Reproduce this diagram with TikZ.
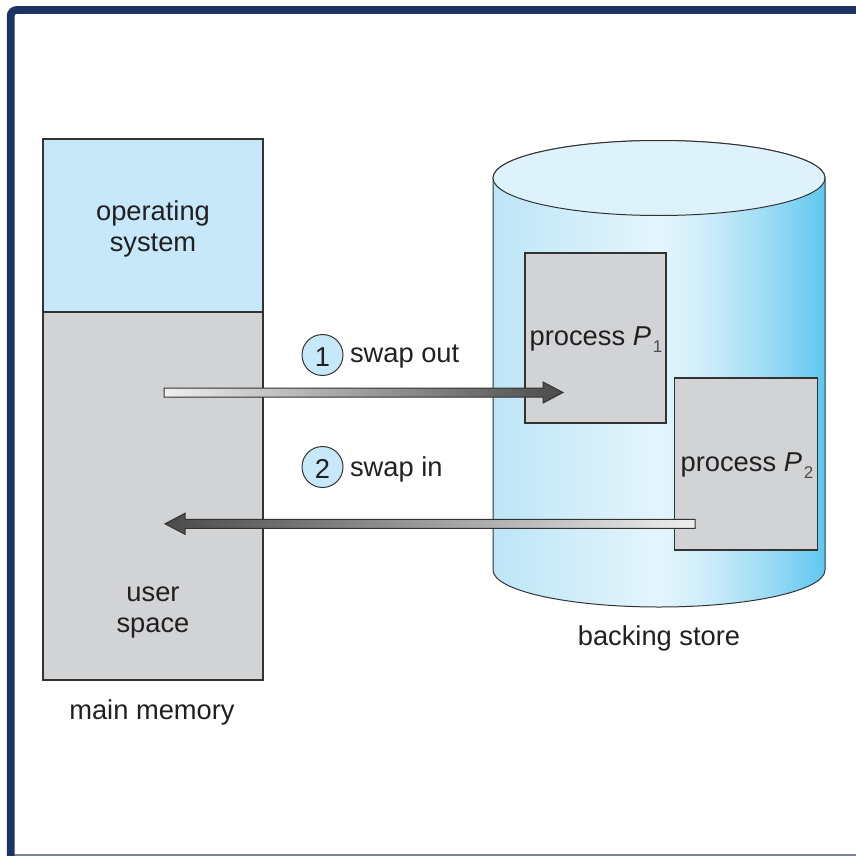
\documentclass[tikz,border=0pt]{standalone}
\usepackage{fontspec}
\setmainfont{Liberation Sans}
\usetikzlibrary{calc}

\definecolor{framenavy}{HTML}{1B3461}
\definecolor{framegrey}{HTML}{7A84A0}
\definecolor{osblue}{HTML}{C6E8F9}
\definecolor{memgrey}{HTML}{D1D3D5}
\definecolor{edge}{HTML}{333333}
\definecolor{ink}{HTML}{231F20}
\definecolor{topblue}{HTML}{DDF2FB}
\definecolor{cylA}{HTML}{BDE5F7}
\definecolor{cylB}{HTML}{C8EAF8}
\definecolor{cylC}{HTML}{E4F5FC}
\definecolor{cylD}{HTML}{CDEDFA}
\definecolor{cylE}{HTML}{98DAF4}
\definecolor{cylF}{HTML}{5EC8EF}
\definecolor{barlight}{HTML}{EFEFEF}
\definecolor{bardark}{HTML}{4A4A4A}

% side-to-side colour run of the disk cylinder
\pgfdeclarehorizontalshading{cylshade}{100bp}{%
  color(0bp)=(cylA); color(25bp)=(cylA); color(32bp)=(cylB);
  color(50bp)=(cylC); color(57bp)=(cylD); color(67bp)=(cylE);
  color(75bp)=(cylF); color(100bp)=(cylF)}

\tikzset{
  x=1pt, y=1pt,
  every node/.style={inner sep=0pt, outer sep=0pt, text=ink,
    font=\fontsize{27.3}{31}\selectfont},
  membox/.style={draw=edge, line width=1.1pt, minimum width=220pt},
  procbox/.style={draw=edge, line width=1.1pt, fill=memgrey},
  numcirc/.style={circle, draw=edge, line width=1pt, fill=osblue, minimum size=41pt},
  swapbar/.style={draw=edge, line width=1pt, line join=miter},
  caption/.style={align=center},
}

\newcommand{\procname}[1]{process \textit{P}\kern2pt{\fontsize{17}{17}\selectfont\raisebox{-7pt}{\color{ink!80}#1}}}

\begin{document}
\begin{tikzpicture}
\useasboundingbox (0,0) rectangle (856,-856);

% frame
\begin{scope}
\clip (0,0) rectangle (856,-856);
\draw[framegrey, line width=1.6pt] (8,-855.2) -- (870,-855.2);
\draw[framenavy, line width=7.8pt, rounded corners=6pt]
  (10.7,-870) -- (10.7,-10) -- (870,-10);
\end{scope}

% main memory
\node[membox, fill=osblue, minimum height=173pt] (os) at (153,-225.5) {};
\node[caption] (oslbl) at (153,-229) {operating\\system};
\node[membox, fill=memgrey, minimum height=368pt] (user) at (153,-496) {};
\node[caption] (userlbl) at (153,-612) {user\\space};
\node (mainlbl) at (152,-712) {main memory};

% backing store cylinder
\path[shading=cylshade, draw=edge, line width=1pt]
  (493,-178) -- (493,-570)
  arc[start angle=180, end angle=360, x radius=166, y radius=37]
  -- (825,-178)
  arc[start angle=0, end angle=180, x radius=166, y radius=37.5] -- cycle;
\draw[edge, line width=1pt, fill=topblue]
  (659,-178) ellipse[x radius=166, y radius=37.5];
\node (storelbl) at (659,-638) {backing store};

% processes on disk
\node[procbox, minimum width=141pt, minimum height=170pt] (p1) at (595.5,-338) {};
\node (p1lbl) at (596,-340) {\procname{1}};
\node[procbox, minimum width=143pt, minimum height=172pt] (p2) at (746.3,-464) {};
\node (p2lbl) at (747,-466) {\procname{2}};

% swap out: main memory -> P1
\coordinate (soS) at (164,-392.5);
\coordinate (soE) at (563,-392.5);
\path[swapbar, left color=barlight, right color=bardark]
  ($(soS)+(0,4.5)$) -- ($(soE)+(-20,4.5)$) -- ($(soE)+(-20,10.5)$) -- (soE)
  -- ($(soE)+(-20,-10.5)$) -- ($(soE)+(-20,-4.5)$) -- ($(soS)+(0,-4.5)$) -- cycle;

% swap in: P2 -> main memory
\coordinate (siS) at (695,-523.8);
\coordinate (siE) at (165,-523.8);
\path[swapbar, right color=barlight, left color=bardark]
  ($(siS)+(0,4.5)$) -- ($(siE)+(20,4.5)$) -- ($(siE)+(20,10.5)$) -- (siE)
  -- ($(siE)+(20,-10.5)$) -- ($(siE)+(20,-4.5)$) -- ($(siS)+(0,-4.5)$) -- cycle;

% step markers
\node[numcirc] (n1) at (322.5,-355) {};
\node (n1lbl) at (322.5,-357) {1};
\node[anchor=west] (outlbl) at ($(n1.east)+(7,-2)$) {swap out};
\node[numcirc] (n2) at (322.5,-467) {};
\node (n2lbl) at (322.5,-469) {2};
\node[anchor=west] (inlbl) at ($(n2.east)+(7,-2)$) {swap in};
\end{tikzpicture}
\end{document}
